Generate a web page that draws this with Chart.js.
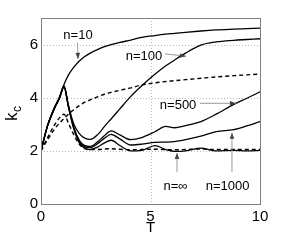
<!DOCTYPE html>
<html><head><meta charset="utf-8">
<script src="https://cdn.jsdelivr.net/npm/chart.js@4/dist/chart.umd.min.js"></script>
<style>html,body{margin:0;padding:0;background:#fff;overflow:hidden}</style>
</head><body>
<canvas id="c" width="287" height="242"></canvas>
<script>
// ---- data ----
const T       = [0, 0.3, 0.6, 0.85, 1.05, 1.25, 1.5, 1.75, 2.0, 2.25, 2.6, 2.9, 3.2, 3.6, 4.1, 4.6, 5.2, 5.7, 6.1, 6.6, 7.3, 8.0, 8.8, 9.4, 10];
const n10     = [2, 2.95, 3.6, 4.05, 4.5, 4.85, 5.15, 5.38, 5.55, 5.68, 5.82, 5.92, 6.0, 6.08, 6.17, 6.27, 6.34, 6.39, 6.42, 6.46, 6.51, 6.55, 6.58, 6.6, 6.62];
const n100    = [2, 2.95, 3.58, 4.0, 4.45, 3.72, 3.0, 2.65, 2.48, 2.43, 2.62, 2.92, 3.2, 3.58, 4.05, 4.45, 4.88, 5.2, 5.42, 5.68, 5.98, 6.1, 6.16, 6.19, 6.22];
const n500    = [2, 2.95, 3.58, 4.0, 4.43, 3.7, 2.88, 2.4, 2.2, 2.17, 2.35, 2.58, 2.75, 2.6, 2.42, 2.5, 2.72, 2.92, 2.87, 2.95, 3.1, 3.38, 3.75, 3.98, 4.22];
const n1000   = [2, 2.95, 3.58, 4.0, 4.42, 3.68, 2.85, 2.35, 2.15, 2.12, 2.28, 2.48, 2.62, 2.45, 2.22, 2.25, 2.32, 2.33, 2.35, 2.42, 2.55, 2.72, 2.8, 2.94, 3.1];
const nInf    = [2, 2.95, 3.58, 4.0, 4.4, 3.66, 2.82, 2.3, 2.1, 2.05, 2.15, 2.3, 2.4, 2.2, 2.0, 2.02, 2.2, 2.05, 1.98, 2.0, 2.1, 2.0, 2.02, 2.0, 2.02];
const dashUp  = [2, 2.42, 2.8, 3.05, 3.22, 3.38, 3.55, 3.7, 3.83, 3.92, 4.04, 4.13, 4.2, 4.28, 4.37, 4.48, 4.56, 4.61, 4.64, 4.68, 4.73, 4.78, 4.83, 4.86, 4.89];
const dashLow = [2, 2.5, 2.95, 3.25, 3.38, 3.05, 2.6, 2.25, 2.08, 2.05, 2.05, 2.07, 2.08, 2.06, 2.04, 2.05, 2.06, 2.05, 2.04, 2.05, 2.07, 2.05, 2.05, 2.05, 2.05];
const xTicks  = [0, 5, 10];
const yTicks  = [0, 2, 4, 6];
const noteText = ['n=10', 'n=100', 'n=500', 'n=\u221E', 'n=1000'];
const noteT    = [1.69, 4.7, 6.26, 6.14, 8.52];
const noteK    = [6.33, 5.57, 3.71, 0.67, 0.67];
const arrowFrom = [[1.67, 6.07], [5.66, 5.65], [7.26, 3.79], [6.21, 1.2], [8.72, 1.2]];
const arrowTo   = [[1.69, 5.46], [6.62, 5.56], [8.9, 3.79], [6.21, 1.92], [8.72, 2.68]];

const pts = v => T.map((t, i) => ({x: t, y: v[i]}));
const solid = v => ({data: pts(v), borderColor: '#000', borderWidth: 1.3, pointRadius: 0, fill: false, cubicInterpolationMode: 'monotone'});
const dashed = v => ({data: pts(v), borderColor: '#000', borderWidth: 1.4, borderDash: [4, 3], pointRadius: 0, fill: false, cubicInterpolationMode: 'monotone'});

const FONT = "'Liberation Sans', Arial, sans-serif";

const extras = {
  id: 'extras',
  beforeDatasetsDraw(chart) {
    const {ctx, chartArea: a, scales: {x, y}} = chart;
    ctx.save();
    ctx.strokeStyle = '#b8b8b8'; ctx.lineWidth = 1; ctx.setLineDash([1, 2]);
    for (const v of xTicks) {
      const px = Math.round(x.getPixelForValue(v)) + 0.5;
      ctx.beginPath(); ctx.moveTo(px, a.top); ctx.lineTo(px, a.bottom); ctx.stroke();
    }
    for (const v of yTicks) {
      const py = Math.round(y.getPixelForValue(v)) + 0.5;
      ctx.beginPath(); ctx.moveTo(a.left, py); ctx.lineTo(a.right, py); ctx.stroke();
    }
    ctx.restore();
  },
  afterDraw(chart) {
    const {ctx, chartArea: a, scales: {x, y}} = chart;
    ctx.save();
    // box
    ctx.strokeStyle = '#808080'; ctx.lineWidth = 1;
    ctx.strokeRect(Math.round(a.left) + 0.5, Math.round(a.top) + 0.5, Math.round(a.right - a.left), Math.round(a.bottom - a.top));
    // arrows
    for (let i = 0; i < arrowFrom.length; i++) {
      const x1 = x.getPixelForValue(arrowFrom[i][0]), y1 = y.getPixelForValue(arrowFrom[i][1]);
      const x2 = x.getPixelForValue(arrowTo[i][0]), y2 = y.getPixelForValue(arrowTo[i][1]);
      ctx.strokeStyle = '#9a9a9a'; ctx.lineWidth = 1;
      ctx.beginPath(); ctx.moveTo(x1, y1); ctx.lineTo(x2, y2); ctx.stroke();
      const ang = Math.atan2(y2 - y1, x2 - x1), L = 6, W = 2.3;
      ctx.fillStyle = '#444';
      ctx.beginPath();
      ctx.moveTo(x2, y2);
      ctx.lineTo(x2 - L * Math.cos(ang) + W * Math.sin(ang), y2 - L * Math.sin(ang) - W * Math.cos(ang));
      ctx.lineTo(x2 - L * Math.cos(ang) - W * Math.sin(ang), y2 - L * Math.sin(ang) + W * Math.cos(ang));
      ctx.closePath(); ctx.fill();
    }
    // labels
    ctx.fillStyle = '#000'; ctx.font = '13px ' + FONT; ctx.textAlign = 'center'; ctx.textBaseline = 'middle';
    for (let i = 0; i < noteText.length; i++) {
      ctx.fillText(noteText[i], x.getPixelForValue(noteT[i]), y.getPixelForValue(noteK[i]));
    }
    // y title k_c
    ctx.translate(17, 121);
    ctx.rotate(-Math.PI / 2);
    ctx.textAlign = 'left'; ctx.textBaseline = 'alphabetic';
    ctx.font = '17px ' + FONT;
    ctx.fillText('k', 0, 0);
    const w = ctx.measureText('k').width;
    ctx.font = '12px ' + FONT;
    ctx.fillText('c', w + 0.5, 4);
    ctx.restore();
  }
};

new Chart(document.getElementById('c'), {
  type: 'line',
  data: {datasets: [solid(n10), solid(n100), solid(n500), solid(n1000), solid(nInf), dashed(dashUp), dashed(dashLow)]},
  options: {
    responsive: false, animation: false, devicePixelRatio: 1,
    layout: {padding: {top: 18, right: 27, left: 0, bottom: 0}},
    plugins: {legend: {display: false}, tooltip: {enabled: false}},
    scales: {
      x: {
        type: 'linear', min: 0, max: 10,
        afterBuildTicks: s => { s.ticks = xTicks.map(v => ({value: v})); },
        afterFit: s => { s.height = 38; },
        grid: {display: false, drawTicks: false},
        border: {display: false},
        ticks: {color: '#000', font: {size: 15, family: FONT}, padding: 4, maxRotation: 0},
        title: {display: true, text: 'T', color: '#000', font: {size: 15, family: FONT}, padding: {top: 0, bottom: 5}}
      },
      y: {
        type: 'linear', min: 0, max: 7,
        afterBuildTicks: s => { s.ticks = yTicks.map(v => ({value: v})); },
        afterFit: s => { s.width = 41; },
        grid: {display: false, drawTicks: false},
        border: {display: false},
        ticks: {color: '#000', font: {size: 15, family: FONT}, padding: 3}
      }
    }
  },
  plugins: [extras]
});
</script>
</body></html>
